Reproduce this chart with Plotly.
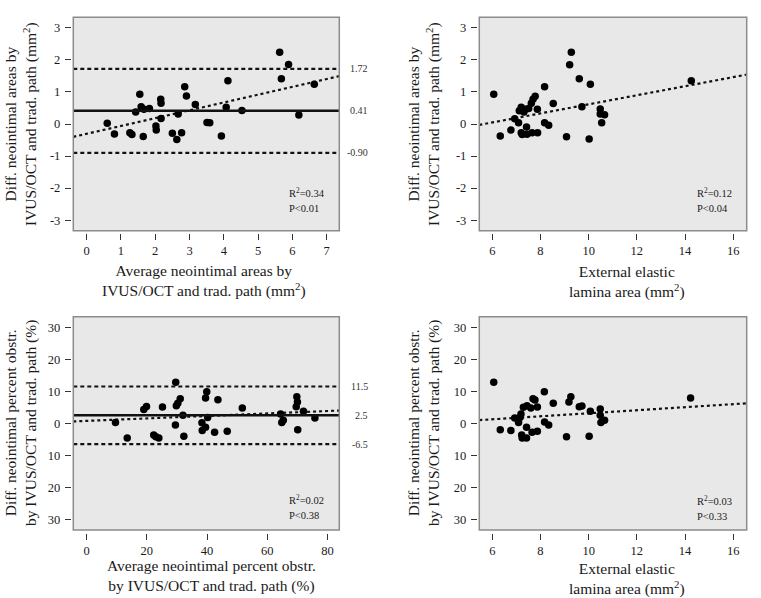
import plotly.graph_objects as go

# ---------------- data ----------------
# Panel A: neointimal areas (Bland-Altman)
a_x = [0.60, 0.81, 1.26, 1.32, 1.43, 1.55, 1.59, 1.65, 1.67, 1.83, 2.02, 2.03, 2.16, 2.17, 2.17,
       2.50, 2.63, 2.67, 2.77, 2.86, 2.91, 3.17, 3.51, 3.59, 3.93, 4.07, 4.12, 4.53, 5.63, 5.68,
       5.89, 6.19, 6.64]
a_y = [0.02, -0.31, -0.27, -0.33, 0.375, 0.93, 0.54, -0.39, 0.46, 0.48, -0.06, -0.19, 0.77, 0.65, 0.17,
       -0.29, -0.48, 0.31, -0.27, 1.16, 0.875, 0.61, 0.05, 0.04, -0.375, 0.52, 1.35, 0.42, 2.24, 1.41,
       1.86, 0.28, 1.24]
a_mean, a_upper, a_lower = 0.41, 1.72, -0.90
a_labels = ["1.72", "0.41", "-0.90"]
a_reg = (-0.305, 0.244)   # intercept, slope
a_stats = ["R<sup>2</sup>=0.34", "P<0.01"]

# Panel B: neointimal area difference vs EEL area
b_x = [6.06, 6.33, 6.77, 6.93, 7.09, 7.12, 7.20, 7.20, 7.24, 7.31, 7.38, 7.42, 7.44, 7.51, 7.62,
       7.65, 7.69, 7.78, 7.87, 7.88, 8.17, 8.17, 8.34, 8.53, 9.08, 9.21, 9.28, 9.61, 9.72, 10.02,
       10.07, 10.48, 10.48, 10.66, 10.54, 14.26]
b_y = [0.93, -0.375, -0.19, 0.16, 0.04, 0.41, 0.52, -0.27, -0.33, 0.375, 0.46, -0.09, -0.32, 0.48, 0.65,
       -0.27, 0.77, 0.865, 0.46, -0.27, 1.16, 0.04, -0.04, 0.64, -0.40, 1.85, 2.24, 1.41, 0.54, -0.47,
       1.24, 0.47, 0.31, 0.29, 0.04, 1.35]
b_reg = (-0.80, 0.1414)
b_stats = ["R<sup>2</sup>=0.12", "P<0.04"]

# Panel C: neointimal percent obstruction (Bland-Altman)
c_x = [9.6, 13.5, 19.0, 19.9, 22.3, 23.0, 24.0, 25.2, 29.6, 29.8, 29.5, 30.3, 31.1, 32.0, 32.3,
       38.3, 38.4, 39.5, 39.5, 39.9, 40.2, 42.5, 43.6, 46.7, 51.7, 64.4, 64.8, 65.3, 69.8, 70.0,
       69.6, 70.1, 72.0, 75.8]
c_y = [0.3, -4.6, 4.3, 5.3, -3.6, -4.2, -4.6, 5.1, 12.8, 5.5, -0.5, 6.25, 7.7, 2.5, -4.0,
       0.2, -2.2, 7.9, -1.25, 9.9, 1.8, -2.8, 7.4, -2.5, 4.8, 2.9, 0.3, 1.0, 8.3, 6.7,
       5.2, -2.0, 3.75, 1.7]
c_mean, c_upper, c_lower = 2.5, 11.5, -6.5
c_labels = ["11.5", "2.5", "-6.5"]
c_reg = (0.77, 0.0385)
c_stats = ["R<sup>2</sup>=0.02", "P<0.38"]

# Panel D: percent obstruction difference vs EEL area
d_x = [6.06, 6.33, 6.77, 6.93, 7.09, 7.15, 7.19, 7.22, 7.24, 7.29, 7.42, 7.42, 7.44, 7.60, 7.65,
       7.69, 7.77, 7.87, 7.87, 8.16, 8.17, 8.34, 8.53, 9.08, 9.18, 9.26, 9.61, 9.72, 10.02, 10.07,
       10.48, 10.48, 10.51, 10.66, 14.23]
d_y = [12.8, -2.0, -2.2, 1.7, 0.3, 1.8, 2.9, -3.6, -4.6, 5.0, -1.25, -4.6, 5.5, 4.8, -2.8,
       7.7, 7.3, 5.1, -2.5, 9.9, 0.4, -0.5, 6.25, -4.2, 6.7, 8.3, 5.2, 5.4, -4.0, 3.75,
       4.5, 2.5, 0.3, 1.0, 7.9]
d_reg = (-1.58, 0.473)
d_stats = ["R<sup>2</sup>=0.03", "P<0.33"]

# tick labels
area_y_ticks = [-3, -2, -1, 0, 1, 2, 3]
area_y_text = ["-3", "-2", "-1", "0", "1", "2", "3"]
pct_y_ticks = [-30, -20, -10, 0, 10, 20, 30]
pct_y_text = ["30", "20", "10", "0", "10", "20", "30"]   # as printed (no minus signs)
a_x_ticks = [0, 1, 2, 3, 4, 5, 6, 7]
eel_x_ticks = [6, 8, 10, 12, 14, 16]
c_x_ticks = [0, 20, 40, 60, 80]

# titles
a_ytitle = "Diff. neointimal areas by<br>IVUS/OCT and trad. path (mm<sup>2</sup>)"
a_xtitle = "Average neointimal areas by<br>IVUS/OCT and trad. path (mm<sup>2</sup>)"
b_xtitle = "External elastic<br>lamina area (mm<sup>2</sup>)"
c_ytitle = "Diff. neointimal percent obstr.<br>by IVUS/OCT and trad. path (%)"
c_xtitle = "Average neointimal percent obstr.<br>by IVUS/OCT and trad. path (%)"

# ---------------- layout geometry ----------------
W, H = 761, 598
FONT = "Liberation Serif"
TXT = "#1a1a1a"

xdL = [73.3 / W, 339.3 / W]
xdR = [479.3 / W, 746.7 / W]
ydT = [1 - 230.7 / H, 1 - 17.3 / H]
ydB = [1 - 530.0 / H, 1 - 316.7 / H]

panels = [
    dict(n="", xd=xdL, yd=ydT, xr=[-0.39, 7.37], yr=[-3.33, 3.33], x=a_x, y=a_y, reg=a_reg,
         xt=a_x_ticks, yt=area_y_ticks, ytt=area_y_text, stats=a_stats,
         ba=(a_mean, a_upper, a_lower, a_labels), sy=(0.181, 0.102)),
    dict(n="2", xd=xdR, yd=ydT, xr=[5.46, 16.56], yr=[-3.33, 3.33], x=b_x, y=b_y, reg=b_reg,
         xt=eel_x_ticks, yt=area_y_ticks, ytt=area_y_text, stats=b_stats, ba=None, sy=(0.181, 0.102)),
    dict(n="3", xd=xdL, yd=ydB, xr=[-4.4, 83.9], yr=[-33.3, 33.3], x=c_x, y=c_y, reg=c_reg,
         xt=c_x_ticks, yt=pct_y_ticks, ytt=pct_y_text, stats=c_stats,
         ba=(c_mean, c_upper, c_lower, c_labels), sy=(0.141, 0.066)),
    dict(n="4", xd=xdR, yd=ydB, xr=[5.46, 16.56], yr=[-33.3, 33.3], x=d_x, y=d_y, reg=d_reg,
         xt=eel_x_ticks, yt=pct_y_ticks, ytt=pct_y_text, stats=d_stats, ba=None, sy=(0.136, 0.061)),
]

fig = go.Figure()
shapes = []
annotations = []
layout_axes = {}

for p in panels:
    n = p["n"]
    xa, ya = "x" + n, "y" + n
    # regression dotted line across the axis range
    b0, b1 = p["reg"]
    rx = p["xr"]
    fig.add_trace(go.Scatter(x=rx, y=[b0 + b1 * v for v in rx], mode="lines",
                             line=dict(color="#111", width=2.2, dash="dot"),
                             xaxis=xa, yaxis=ya, showlegend=False, hoverinfo="skip"))
    # points
    fig.add_trace(go.Scatter(x=p["x"], y=p["y"], mode="markers",
                             marker=dict(color="black", size=7.5, line=dict(width=0)),
                             xaxis=xa, yaxis=ya, showlegend=False))
    # Bland-Altman lines
    if p["ba"] is not None:
        m, u, l, labs = p["ba"]
        for val, dash, wd in [(u, "4px,3px", 2.2), (m, "solid", 2.5), (l, "4px,3px", 2.2)]:
            shapes.append(dict(type="line", xref=xa + " domain", yref=ya, x0=0, x1=1, y0=val, y1=val,
                               line=dict(color="#111", width=wd, dash=dash), layer="above"))
        for val, lab in zip([u, m, l], labs):
            annotations.append(dict(text=lab, xref="paper", yref=ya, x=370 / W, y=val,
                                    xanchor="right", yanchor="middle", showarrow=False,
                                    font=dict(family=FONT, size=10, color="#333")))
    # frame
    shapes.append(dict(type="rect", xref=xa + " domain", yref=ya + " domain", x0=0, x1=1, y0=0, y1=1,
                       line=dict(color="#8c8c8c", width=1.5), layer="above"))
    # stats text
    for txt, yy in zip(p["stats"], p["sy"]):
        annotations.append(dict(text=txt, xref=xa + " domain", yref=ya + " domain", x=0.805, y=yy,
                                xanchor="left", yanchor="middle", showarrow=False,
                                font=dict(family=FONT, size=10.5, color=TXT)))
    axis_common = dict(showgrid=False, zeroline=False, showline=False, ticks="outside",
                       ticklen=6, tickwidth=1, tickcolor="#333",
                       tickfont=dict(family=FONT, size=12.5, color=TXT), fixedrange=True)
    layout_axes["xaxis" + n] = dict(domain=p["xd"], range=p["xr"], anchor="free",
                                    position=p["yd"][0] - 2.5 / H, tickvals=p["xt"],
                                    ticklabelstandoff=0, **axis_common)
    layout_axes["yaxis" + n] = dict(domain=p["yd"], range=p["yr"], anchor="free",
                                    position=p["xd"][0] - 2.5 / W, tickvals=p["yt"], ticktext=p["ytt"],
                                    ticklabelstandoff=2, **axis_common)

# axis titles as annotations
title_font = dict(family=FONT, size=15.5, color=TXT)
for text, xpx, ypx in [(a_ytitle, 21, 124), (a_ytitle, 424, 124), (c_ytitle, 21, 423), (c_ytitle, 424, 423)]:
    annotations.append(dict(text=text, xref="paper", yref="paper", x=xpx / W, y=1 - ypx / H,
                            textangle=-90, xanchor="center", yanchor="middle", showarrow=False,
                            font=title_font))
for text, xpx, ypx in [(a_xtitle, 204, 281), (b_xtitle, 627, 282), (c_xtitle, 211, 576), (b_xtitle, 627, 579)]:
    annotations.append(dict(text=text, xref="paper", yref="paper", x=xpx / W, y=1 - ypx / H,
                            xanchor="center", yanchor="middle", showarrow=False, font=title_font))

fig.update_layout(width=W, height=H, margin=dict(l=0, r=0, t=0, b=0),
                  paper_bgcolor="white", plot_bgcolor="#e8e8e8",
                  shapes=shapes, annotations=annotations, **layout_axes)

fig.write_html("out.html", config={"displayModeBar": False, "staticPlot": True},
               post_script="document.body.style.margin='0';document.body.style.overflow='hidden';")
